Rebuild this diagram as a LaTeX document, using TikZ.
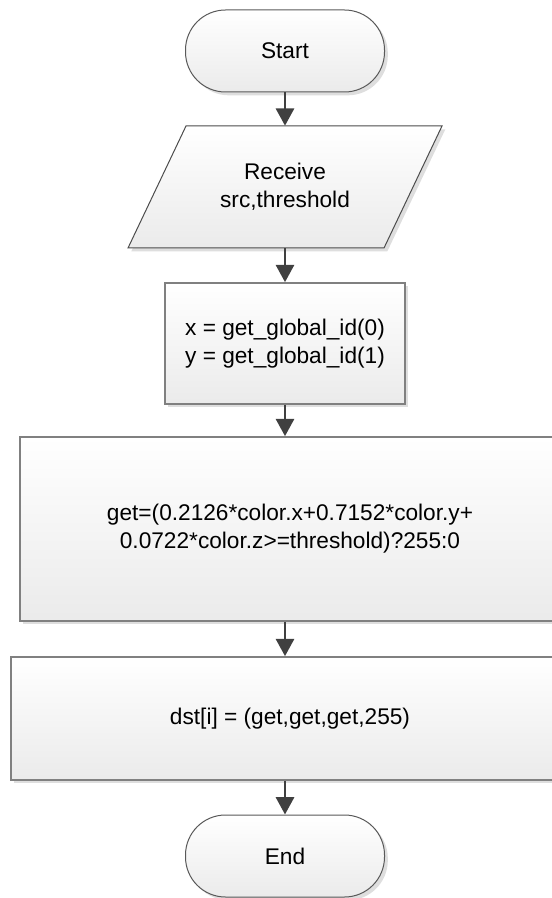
\documentclass[tikz,border=0pt]{standalone}
\usepackage{fontspec}
\setmainfont{Liberation Sans}
\usetikzlibrary{arrows.meta,shadows}
\begin{document}
\begin{tikzpicture}[x=0.75pt,y=-0.75pt,
  every node/.style={font=\fontsize{17}{21}\selectfont, align=center, inner sep=0pt},
  shadefill/.style={top color=white, bottom color=black!8,
    drop shadow={shadow xshift=2.5pt, shadow yshift=-2.5pt, fill=black!13, opacity=1}},
  terminal/.style={shadefill, draw=black!65, line width=0.75pt, rectangle,
    rounded corners=30pt, minimum width=149.25pt, minimum height=61.5pt},
  procbox/.style={shadefill, draw=black!50, line width=1.2pt, rectangle},
  flow/.style={draw=black!75, line width=2.2pt, -{Triangle[length=13pt,width=13.5pt]}}]
\useasboundingbox (0,0) rectangle (552,898);
% input parallelogram
\draw[shadefill, draw=black!70, line width=0.75pt]
  (186,126) -- (442,126) -- (384,248) -- (128,248) -- cycle;
\node (start) [terminal] at (285,51) {Start};
\node (recv) [minimum width=180pt, minimum height=91.5pt] at (285,187) {Receive\\src,threshold};
\node (xy) [procbox, minimum width=180pt, minimum height=90.75pt] at (285,343.5)
  {x = get\_global\_id(0)\\y = get\_global\_id(1)};
\node (big) [procbox, minimum width=405pt, minimum height=138pt] at (290,529)
  {get=(0.2126*color.x+0.7152*color.y+\\0.0722*color.z>=threshold)?255:0};
\node (dst) [procbox, minimum width=418.5pt, minimum height=92.25pt] at (290,718.5)
  {dst[i] = (get,get,get,255)};
\node (endn) [terminal] at (285,856) {End};
\draw[flow] (start) -- (recv);
\draw[flow] (recv) -- (xy);
\draw[flow] (xy.south) -- (xy.south |- big.north);
\draw[flow] (big.south -| xy) -- (dst.north -| xy);
\draw[flow] (dst.south -| endn) -- (endn);
\end{tikzpicture}
\end{document}
